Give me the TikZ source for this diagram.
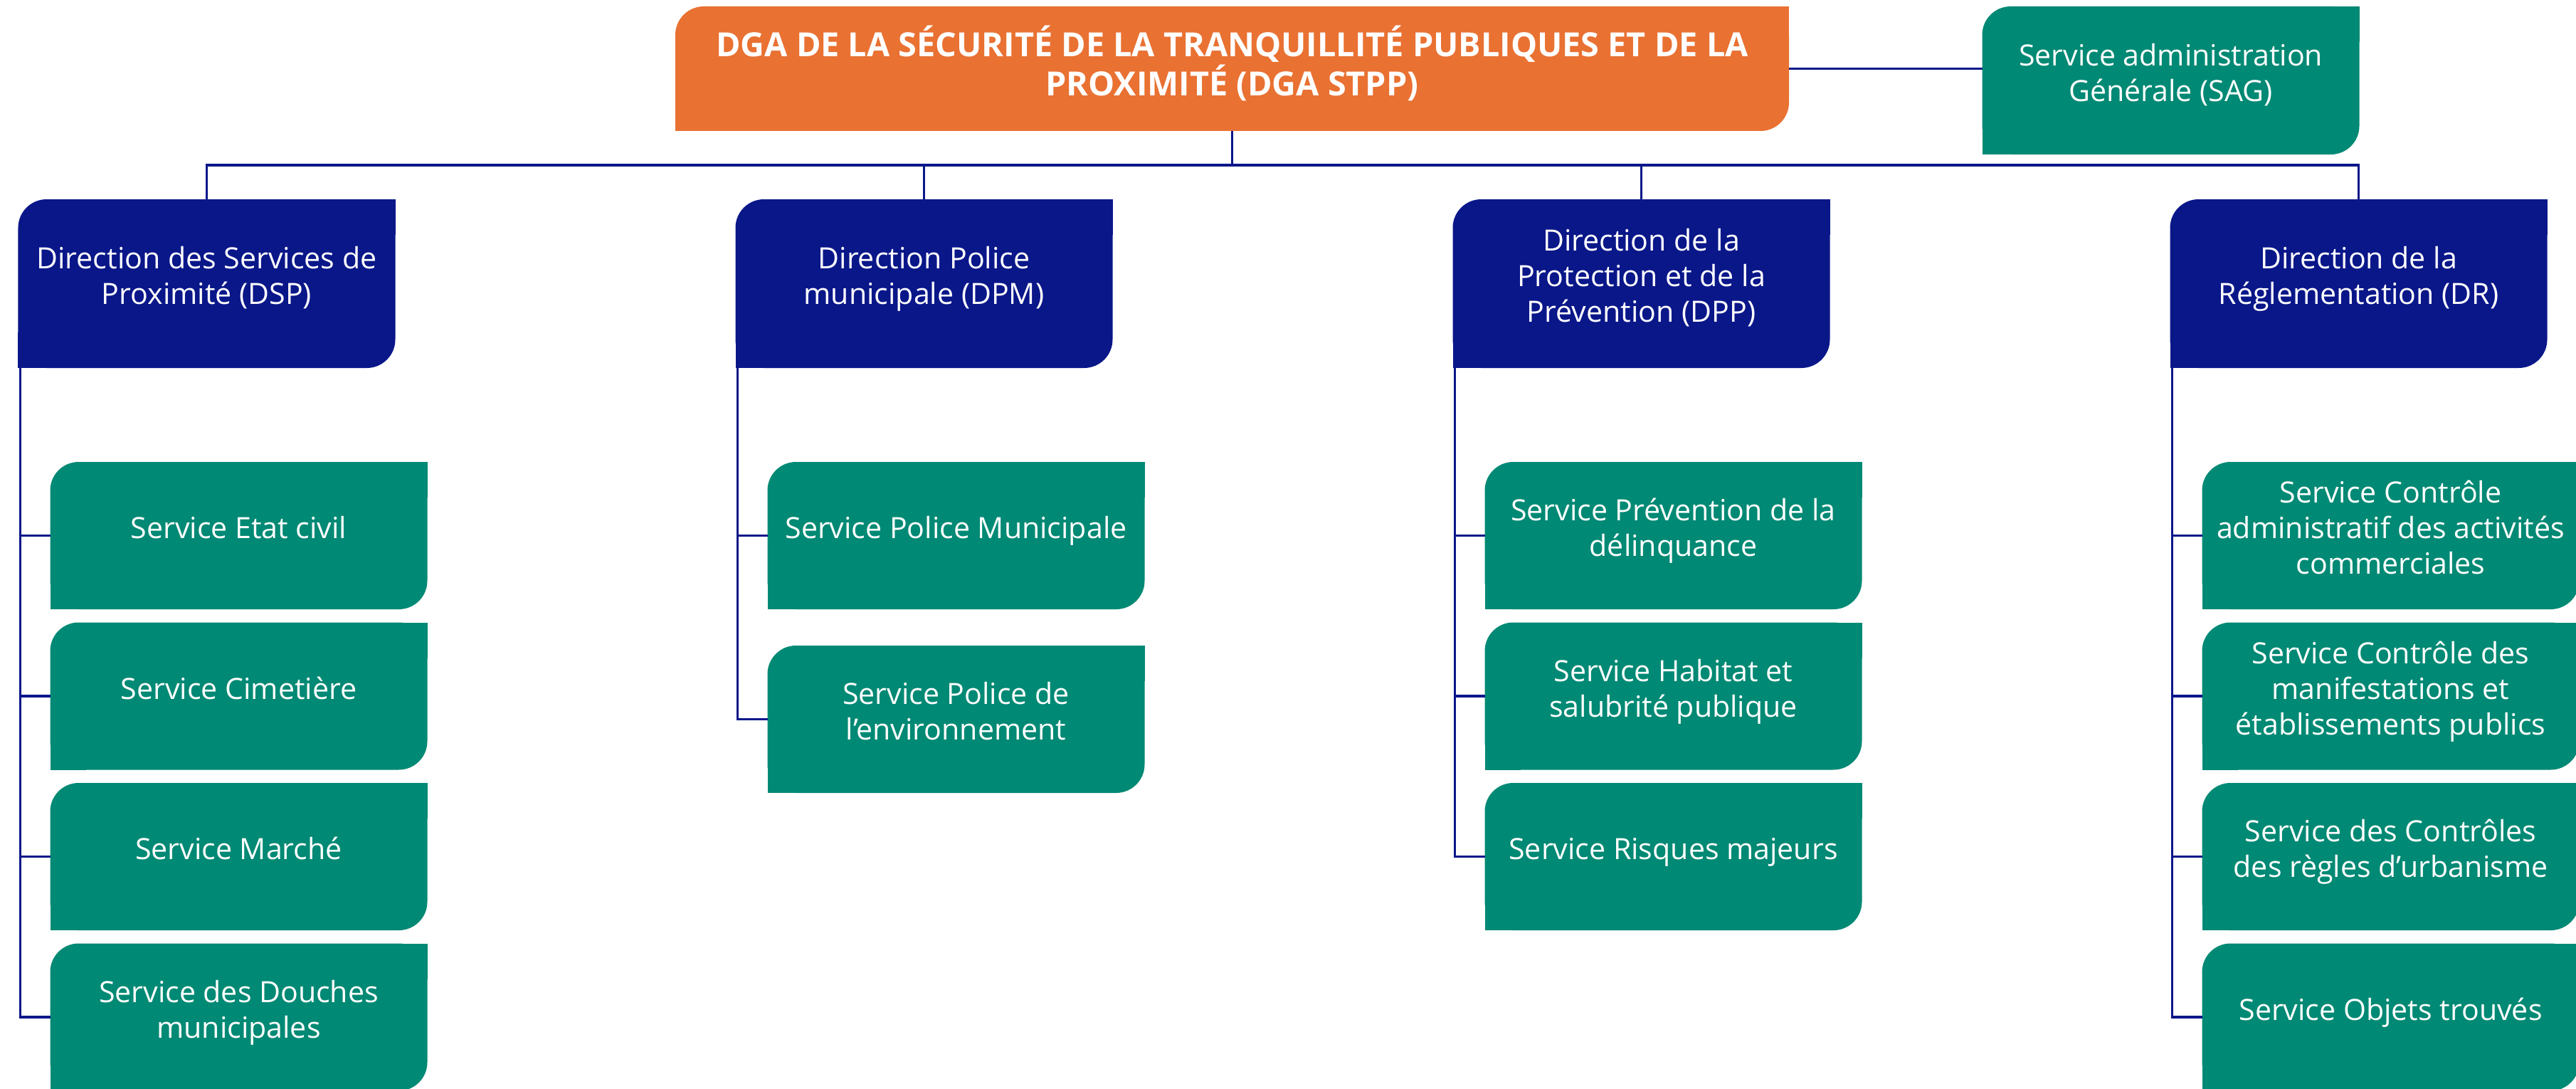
\documentclass[tikz,border=0pt]{standalone}
\usepackage{fontspec}
\setmainfont{Open Sans}
\usepackage{tikz}
\usetikzlibrary{positioning, backgrounds}
\definecolor{dgaorange}{RGB}{233,113,50}
\definecolor{dirnavy}{RGB}{10,23,137}
\definecolor{svcteal}{RGB}{0,137,116}
\tikzset{
		box/.style={minimum width=5.3cm, inner sep=0pt, outer sep=0pt, align=center, text=white, text depth=0.23cm, font=\fontsize{11.7}{14.2}\selectfont},
		head/.style={box, minimum width=15.65cm, minimum height=1.75cm, font=\fontsize{13.3}{13.9}\selectfont\bfseries},
		dirbox/.style={box, minimum height=2.37cm},
		svcbox/.style={box, minimum height=2.07cm},
		link/.style={draw=dirnavy, line width=1pt}
	}

\begin{document}
\begin{tikzpicture}[node distance=0.185cm]
				\useasboundingbox (0,0) rectangle (36.2,-15.3);
				% top
				\node[head]   (dga) at (17.315,-0.965) {DGA DE LA SÉCURITÉ DE LA TRANQUILLITÉ PUBLIQUES ET DE LA\\PROXIMITÉ (DGA STPP)};
				\node[svcbox, minimum height=2.08cm] (sag) at (30.505,-1.13) {Service administration\\Générale (SAG)};
				% directions
				\node[dirbox] (dsp) at (2.905,-3.985)  {Direction des Services de\\Proximité (DSP)};
				\node[dirbox] (dpm) at (12.985,-3.985) {Direction Police\\municipale (DPM)};
				\node[dirbox] (dpp) at (23.065,-3.985) {Direction de la\\Protection et de la\\Prévention (DPP)};
				\node[dirbox] (dr)  at (33.145,-3.985) {Direction de la\\Réglementation (DR)};
				% services DSP
				\node[svcbox] (dsp1) at (3.355,-7.525) {Service Etat civil};
				\node[svcbox] (dsp2) [below=of dsp1]   {Service Cimetière};
				\node[svcbox] (dsp3) [below=of dsp2]   {Service Marché};
				\node[svcbox] (dsp4) [below=of dsp3]   {Service des Douches\\municipales};
				% services DPM
				\node[svcbox] (dpm1) at (13.435,-7.525)     {Service Police Municipale};
				\node[svcbox] (dpm2) [below=0.51cm of dpm1] {Service Police de\\l’environnement};
				% services DPP
				\node[svcbox] (dpp1) at (23.515,-7.525) {Service Prévention de la\\délinquance};
				\node[svcbox] (dpp2) [below=of dpp1]    {Service Habitat et\\salubrité publique};
				\node[svcbox] (dpp3) [below=of dpp2]    {Service Risques majeurs};
				% services DR
				\node[svcbox] (dr1) at (33.595,-7.525) {Service Contrôle\\administratif des activités\\commerciales};
				\node[svcbox] (dr2) [below=of dr1]     {Service Contrôle des\\manifestations et\\établissements publics};
				\node[svcbox] (dr3) [below=of dr2]     {Service des Contrôles\\des règles d’urbanisme};
				\node[svcbox] (dr4) [below=of dr3]     {Service Objets trouvés};
				% box shapes
				\begin{scope}[on background layer]
					\foreach \n/\c in {dga/dgaorange, sag/svcteal, dsp/dirnavy, dpm/dirnavy, dpp/dirnavy, dr/dirnavy,
							dsp1/svcteal, dsp2/svcteal, dsp3/svcteal, dsp4/svcteal, dpm1/svcteal, dpm2/svcteal,
							dpp1/svcteal, dpp2/svcteal, dpp3/svcteal, dr1/svcteal, dr2/svcteal, dr3/svcteal, dr4/svcteal}{
						\fill[\c, rounded corners=0.4cm] (\n.south west) rectangle (\n.north east);
						\fill[\c] (\n.north east) rectangle ++(-0.5,-0.5);
						\fill[\c] (\n.south west) rectangle ++(0.5,0.5);
					}
				\end{scope}
				% links
				\coordinate (bus) at (17.315,-2.32);
				\draw[link] (dga.east) -- (dga.east -| sag.west);
				\draw[link] (dga.south) -- (bus);
				\foreach \d in {dsp, dpm, dpp, dr}
					\draw[link] (bus) -| (\d.north);
				\foreach \d/\s in {dsp/dsp1, dsp/dsp2, dsp/dsp3, dsp/dsp4, dpm/dpm1, dpm/dpm2,
						dpp/dpp1, dpp/dpp2, dpp/dpp3, dr/dr1, dr/dr2, dr/dr3, dr/dr4}
					\draw[link] ([xshift=0.03cm]\d.south west) |- (\s.west);
			\end{tikzpicture}
\end{document}
